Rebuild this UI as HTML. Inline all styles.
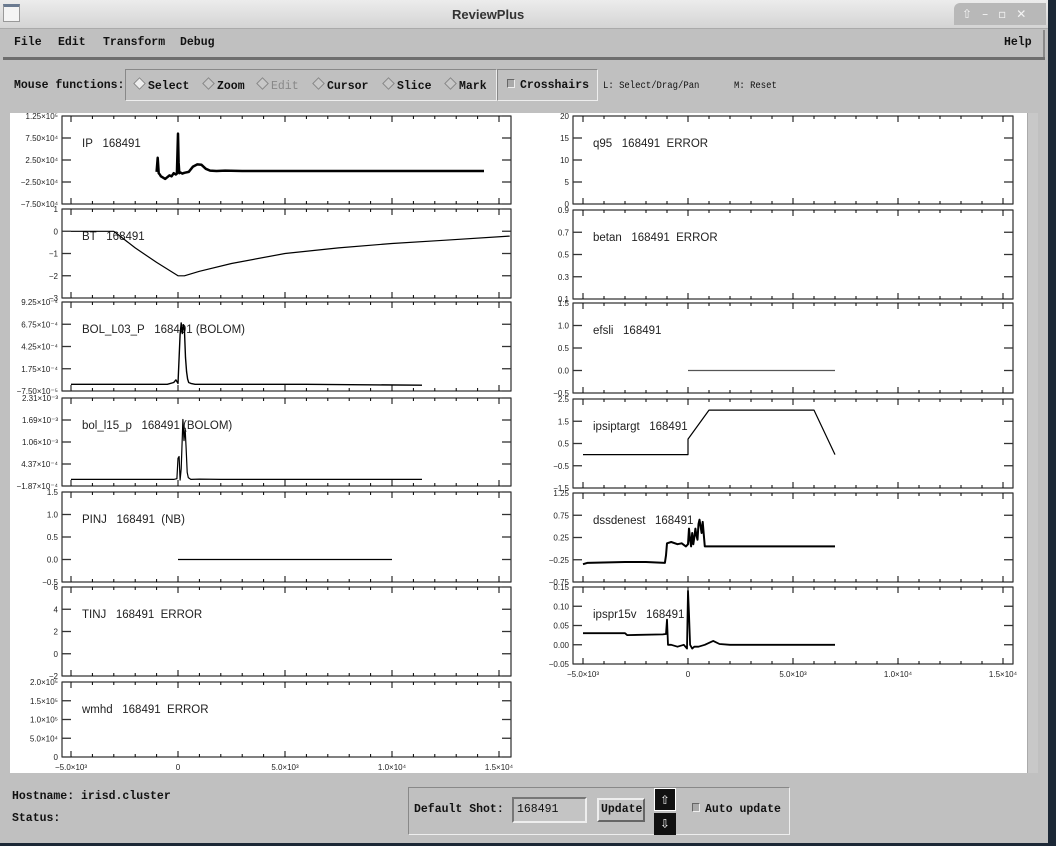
<!DOCTYPE html>
<html><head><meta charset="utf-8">
<style>
html,body{margin:0;padding:0;}
body{width:1056px;height:846px;position:relative;overflow:hidden;background:#1c2836;font-family:"Liberation Mono",monospace;}
.abs{position:absolute;}
.win{left:0;top:0;width:1048px;height:843px;background:#c0c0c0;}
.title{left:0;top:0;width:1048px;height:28px;background:linear-gradient(#ececec,#d4d4d4);border-bottom:1px solid #aaa;}
.b{font-weight:bold;font-size:11.5px;color:#111;white-space:nowrap;}
.n{font-size:10.5px;color:#111;white-space:nowrap;transform:scaleX(0.85);transform-origin:left;}
.dia{display:inline-block;width:7px;height:7px;border:1px solid #888;transform:rotate(45deg);background:#c8c8c8;margin-right:4px;vertical-align:1px;}
.chk{display:inline-block;width:6px;height:7px;border:1px solid #666;border-right-color:#eee;border-bottom-color:#eee;background:#aaa;margin-right:5px;}
svg text{white-space:pre;}
</style></head><body>
<div class="abs win"></div>
<div class="abs title"></div>
<div class="abs" style="left:3px;top:4px;width:17px;height:18px;background:#f4f4f4;border:1px solid #999;border-top:3px solid #6a7a90;box-sizing:border-box"></div>
<div class="abs" style="left:452px;top:7px;font-family:'Liberation Sans',sans-serif;font-weight:bold;font-size:13px;color:#333">ReviewPlus</div>
<div class="abs" style="left:954px;top:3px;width:92px;height:22px;background:#b8b8b8;border-radius:6px 0 0 0;color:#f4f4f4;font-family:'DejaVu Sans',sans-serif;font-size:12px;line-height:22px"><span style="margin-left:8px">⇧</span><span style="margin-left:10px">–</span><span style="margin-left:10px">▫</span><span style="margin-left:10px">✕</span></div>

<div class="abs" style="left:3px;top:30px;width:1040px;height:27px;border-right:2px solid #888"></div>
<div class="abs b" style="left:14px;top:36px">File</div>
<div class="abs b" style="left:58px;top:36px">Edit</div>
<div class="abs b" style="left:103px;top:36px">Transform</div>
<div class="abs b" style="left:180px;top:36px">Debug</div>
<div class="abs b" style="left:1004px;top:36px">Help</div>
<div class="abs" style="left:3px;top:57px;width:1042px;height:3px;background:#6e6e6e"></div>

<div class="abs b" style="left:14px;top:79px">Mouse functions:</div>
<div class="abs" style="left:125px;top:69px;width:372px;height:32px;border:1px solid #888;border-right-color:#eee;border-bottom-color:#eee;box-sizing:border-box"></div>
<div class="abs" style="left:497px;top:69px;width:101px;height:32px;border:1px solid #888;border-right-color:#eee;border-bottom-color:#eee;box-sizing:border-box"></div>
<div class="abs b" style="left:135px;top:79px"><span class="dia" style="background:#eee"></span>Select</div>
<div class="abs b" style="left:204px;top:79px"><span class="dia"></span>Zoom</div>
<div class="abs b" style="left:258px;top:79px;color:#888;font-weight:normal"><span class="dia"></span>Edit</div>
<div class="abs b" style="left:314px;top:79px"><span class="dia"></span>Cursor</div>
<div class="abs b" style="left:384px;top:79px"><span class="dia"></span>Slice</div>
<div class="abs b" style="left:446px;top:79px"><span class="dia"></span>Mark</div>
<div class="abs b" style="left:507px;top:79px"><span class="chk"></span>Crosshairs</div>
<div class="abs n" style="left:603px;top:80px">L: Select/Drag/Pan</div>
<div class="abs n" style="left:734px;top:80px">M: Reset</div>

<div class="abs" style="left:10px;top:113px;width:1017px;height:660px;background:#fff"></div>
<div class="abs" style="left:1027px;top:113px;width:10px;height:660px;background:#c8c8c8;border-left:1px solid #aaa"></div>

<div class="abs b" style="left:12px;top:790px">Hostname: irisd.cluster</div>
<div class="abs b" style="left:12px;top:812px">Status:</div>
<div class="abs" style="left:408px;top:787px;width:382px;height:48px;border:1px solid #888;border-right-color:#eee;border-bottom-color:#eee;box-sizing:border-box"></div>
<div class="abs b" style="left:414px;top:803px">Default Shot:</div>
<div class="abs b" style="left:512px;top:797px;width:75px;height:26px;background:#c4c4c4;border:2px solid #777;border-right-color:#eee;border-bottom-color:#eee;box-sizing:border-box;padding:4px 0 0 3px;font-weight:normal">168491</div>
<div class="abs b" style="left:597px;top:798px;width:48px;height:24px;border:2px solid #eee;border-right-color:#666;border-bottom-color:#666;box-sizing:border-box;padding:3px 0 0 2px">Update</div>
<div class="abs" style="left:654px;top:788px;width:22px;height:23px;background:#111;color:#fff;font-size:16px;text-align:center;line-height:22px;border:1px solid #fff;box-sizing:border-box">⇧</div>
<div class="abs" style="left:654px;top:813px;width:22px;height:22px;background:#111;color:#fff;font-size:16px;text-align:center;line-height:22px">⇩</div>
<div class="abs b" style="left:692px;top:803px"><span class="chk"></span>Auto update</div>

<svg id="plots" class="abs" style="left:0;top:0" width="1056" height="846"></svg>

<script>
// ---- data arrays (time in ms) ----
const ipT=[-1000,-950,-900,-850,-800,-700,-600,-500,-400,-300,-200,-100,-50,0,30,60,100,200,300,500,700,900,1100,1300,1500,1800,2200,3000,5000,8000,11000,14300];
const ipV=[-2000,30000,-5000,-8000,-12000,-15000,-18000,-14000,-10000,-12000,-5000,-8000,-6000,85000,20000,-5000,-3000,-6000,-4000,-2000,10000,15000,14000,5000,1000,0,1000,0,0,0,0,0];
const btT=[-5000,-3000,-2000,-1000,0,300,1000,2500,5000,7500,10000,12500,15500];
const btV=[0,0,-0.75,-1.4,-2,-2,-1.8,-1.45,-1.0,-0.75,-0.55,-0.4,-0.22];
const bol3T=[-5000,-1200,-500,-200,-100,0,100,150,200,250,300,350,400,450,500,600,800,1000,3000,6000,11400];
const bol3V=[0,0,0,2e-5,5e-5,1e-5,5.6e-4,6.9e-4,5.7e-4,6.7e-4,6.2e-4,3e-4,1.4e-4,6e-5,2e-5,1e-5,0,0,0,0,-1e-5];
const bol15T=[-5000,-200,-50,0,50,100,150,230,280,330,380,430,480,600,1000,2000,5000,11400];
const bol15V=[0,0,2e-5,6e-4,6.5e-4,-2e-5,3e-4,1.7e-3,1.1e-3,1.45e-3,9e-4,2e-4,5e-5,0,1e-5,0,0,0];
const pinjT=[0,10000];
const pinjV=[0,0];
const efsliT=[0,7000];
const efsliV=[0,0];
const ipsT=[-5000,0,0,1000,6000,7000];
const ipsV=[0,0,0.7,2,2,0];
const dssT=[-5000,-4800,-3000,-2000,-1100,-1050,-1000,-800,-500,-300,-100,0,50,100,150,200,250,300,350,400,450,500,550,600,650,700,800,900,7000];
const dssV=[-0.35,-0.32,-0.3,-0.3,-0.32,-0.15,0.12,0.15,0.1,0.12,0.05,0.1,0.45,0.2,0.05,0.35,0.1,0.25,0.45,0.3,0.2,0.55,0.65,0.5,0.35,0.6,0.05,0.05,0.05];
const sprT=[-5000,-3000,-2900,-1200,-1050,-1000,-950,-800,-500,-200,-50,0,50,100,200,300,500,800,1200,1500,2000,4000,7000];
const sprV=[0.03,0.03,0.025,0.027,0.028,0.065,0.0,0.0,-0.005,0.0,-0.01,0.14,0.08,0.0,-0.01,-0.005,-0.005,0.0,0.01,0.002,0.0,0.0,0.0];
const xTickLabels=["−5.0×10³","0","5.0×10³","1.0×10⁴","1.5×10⁴"];
const xTickVals=[-5000,0,5000,10000,15000];

const NS="http://www.w3.org/2000/svg";
const svg=document.getElementById('plots');
function mk(tag,attrs,parent){const e=document.createElementNS(NS,tag);for(const k in attrs)e.setAttribute(k,attrs[k]);(parent||svg).appendChild(e);return e;}

const L={bx0:62,bx1:511,dx0:71,dx1:499};
const R={bx0:573,bx1:1013,dx0:583,dx1:1003};
const panels=[
 [L,116,204,-75000,125000,["1.25×10⁵","7.50×10⁴","2.50×10⁴","−2.50×10⁴","−7.50×10⁴"],"IP   168491",ipT,ipV,2.5,"#000","ip"],
 [L,209,298,-3,1,["1","0","−1","−2","−3"],"BT   168491",btT,btV,1.2,"#000","bt"],
 [L,302,391,-7.5e-5,9.25e-4,["9.25×10⁻⁴","6.75×10⁻⁴","4.25×10⁻⁴","1.75×10⁻⁴","−7.50×10⁻⁵"],"BOL_L03_P   168491 (BOLOM)",bol3T,bol3V,1.4,"#000","bol-l03-p"],
 [L,398,486,-1.87e-4,2.31e-3,["2.31×10⁻³","1.69×10⁻³","1.06×10⁻³","4.37×10⁻⁴","−1.87×10⁻⁴"],"bol_l15_p   168491 (BOLOM)",bol15T,bol15V,1.2,"#000","bol-l15-p"],
 [L,492,582,-0.5,1.5,["1.5","1.0","0.5","0.0","−0.5"],"PINJ   168491  (NB)",pinjT,pinjV,1.2,"#000","pinj"],
 [L,587,676,-2,6,["6","4","2","0","−2"],"TINJ   168491  ERROR",[],[],1,"#000","tinj"],
 [L,682,757,0,200000,["2.0×10⁵","1.5×10⁵","1.0×10⁵","5.0×10⁴","0"],"wmhd   168491  ERROR",[],[],1,"#000","wmhd"],
 [R,116,204,0,20,["20","15","10","5","0"],"q95   168491  ERROR",[],[],1,"#000","q95"],
 [R,210,299,0.1,0.9,["0.9","0.7","0.5","0.3","0.1"],"betan   168491  ERROR",[],[],1,"#000","betan"],
 [R,303,393,-0.5,1.5,["1.5","1.0","0.5","0.0","−0.5"],"efsli   168491",efsliT,efsliV,1.2,"#555","efsli"],
 [R,399,488,-1.5,2.5,["2.5","1.5","0.5","−0.5","−1.5"],"ipsiptargt   168491",ipsT,ipsV,1.2,"#000","ipsiptargt"],
 [R,493,582,-0.75,1.25,["1.25","0.75","0.25","−0.25","−0.75"],"dssdenest   168491",dssT,dssV,2,"#000","dssdenest"],
 [R,587,664,-0.05,0.15,["0.15","0.10","0.05","0.00","−0.05"],"ipspr15v   168491",sprT,sprV,1.8,"#000","ipspr15v"]
];
panels.forEach(p=>{
 const [S,top,bot,ymin,ymax,yl,label,T,V,sw,col,id]=p;
 const g=mk('g',{});
 
 
 const xs=t=>S.dx0+(t+5000)/20000*(S.dx1-S.dx0);
 const ys=v=>bot-(v-ymin)/(ymax-ymin)*(bot-top);
 const box=mk('rect',{x:S.bx0,y:top,width:S.bx1-S.bx0,height:bot-top,fill:'none',stroke:'#000','stroke-width':1},g);
 
 
 for(let t=-5000;t<=15000;t+=1000){
  const len=(t%5000===0)?6:3;const x=xs(t);
  mk('line',{x1:x,x2:x,y1:top,y2:top+len,stroke:'#000','stroke-width':1},g);
  mk('line',{x1:x,x2:x,y1:bot,y2:bot-len,stroke:'#000','stroke-width':1},g);
 }
 yl.forEach((s,i)=>{
  const y=top+i*(bot-top)/4;
  mk('line',{x1:S.bx0,x2:S.bx0+9,y1:y,y2:y,stroke:'#333','stroke-width':1.3},g);
  mk('line',{x1:S.bx1,x2:S.bx1-9,y1:y,y2:y,stroke:'#333','stroke-width':1.3},g);
  const tx=mk('text',{x:S.bx0-4,y:y+3,'text-anchor':'end','font-family':'Liberation Sans, sans-serif','font-size':'8px',fill:'#222'},g);
  tx.textContent=s;
  
  
 });
 const lt=mk('text',{x:S.bx0+20,y:top+31,'font-family':'Liberation Sans, sans-serif','font-size':'11.5px',fill:'#222'},g);
 lt.textContent=label.replace(/ /g,'\u00a0');
 
 
 if(T.length){
  const d=T.map((t,i)=>(i?'L':'M')+xs(t).toFixed(1)+','+ys(V[i]).toFixed(1)).join(' ');
  const pa=mk('path',{d:d,fill:'none',stroke:col,'stroke-width':sw,'stroke-linejoin':'round'},g);
  
  
 }
});
function xAxis(S,y){
 xTickVals.forEach((t,i)=>{
  const x=S.dx0+(t+5000)/20000*(S.dx1-S.dx0);
  const tx=mk('text',{x:x,y:y,'text-anchor':'middle','font-family':'Liberation Sans, sans-serif','font-size':'8px',fill:'#222'});
  tx.textContent=xTickLabels[i];
  
  
 });
}
xAxis(L,770);
xAxis(R,677);
</script>
</body></html>
